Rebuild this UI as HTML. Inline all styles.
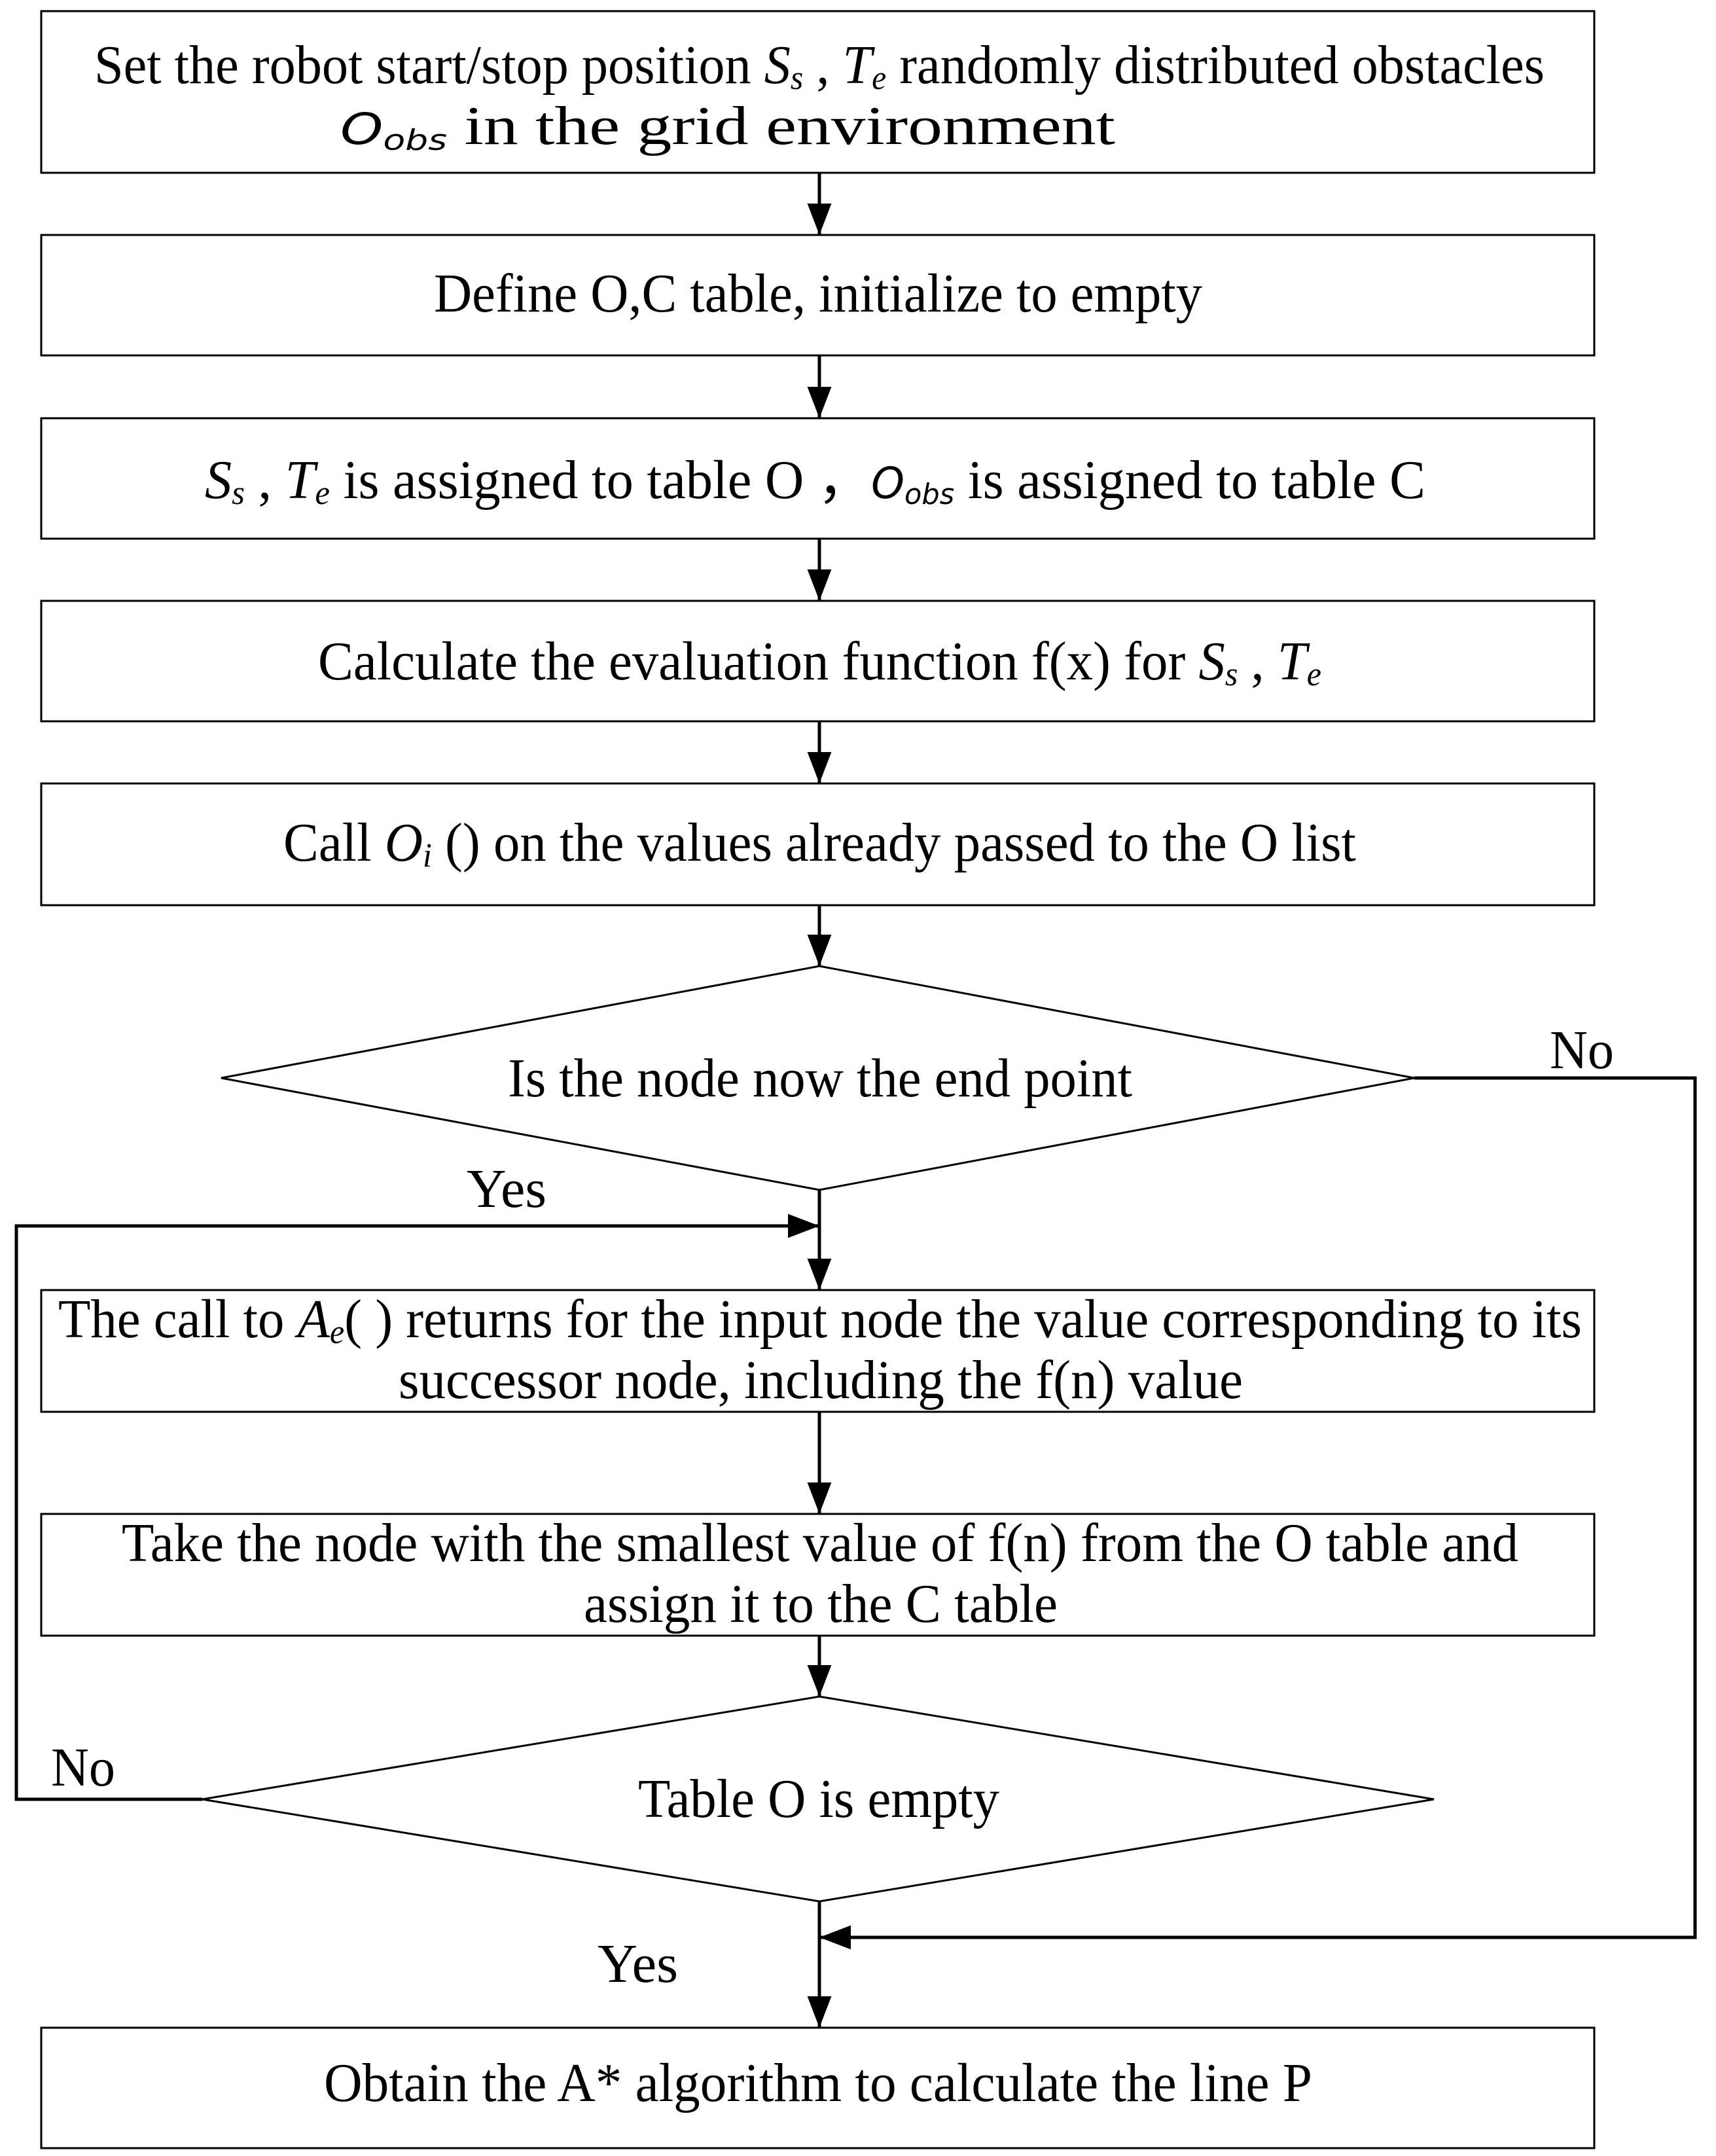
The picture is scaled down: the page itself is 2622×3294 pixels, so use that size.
<!DOCTYPE html>
<html><head><meta charset="utf-8"><style>html,body{margin:0;padding:0;background:#fff}svg{display:block}</style></head>
<body>
<svg width="2622" height="3294" viewBox="0 0 2622 3294" xmlns="http://www.w3.org/2000/svg">
<defs>
<marker id="a" markerUnits="userSpaceOnUse" markerWidth="48" markerHeight="62" refX="60" refY="23" orient="auto" viewBox="0 0 60 46"><path d="M0,0 L60,23 L0,46 Z" fill="#000"/></marker>
</defs>
<g fill="#fff" stroke="#000" stroke-width="3">
<rect x="63" y="17" width="2373" height="247"/>
<rect x="63" y="359" width="2373" height="184"/>
<rect x="63" y="639" width="2373" height="184"/>
<rect x="63" y="918" width="2373" height="184"/>
<rect x="63" y="1197" width="2373" height="186"/>
<polygon points="338,1647 1252,1476 2161,1647 1252,1818"/>
<rect x="63" y="1971" width="2373" height="186"/>
<rect x="63" y="2313" width="2373" height="186"/>
<polygon points="309,2749 1252,2592 2191,2749 1252,2905"/>
<rect x="63" y="3098" width="2373" height="184"/>
</g>
<g stroke="#000" stroke-width="5" fill="none">
<line x1="1252" y1="264" x2="1252" y2="359" marker-end="url(#a)"/>
<line x1="1252" y1="543" x2="1252" y2="639" marker-end="url(#a)"/>
<line x1="1252" y1="823" x2="1252" y2="918" marker-end="url(#a)"/>
<line x1="1252" y1="1102" x2="1252" y2="1197" marker-end="url(#a)"/>
<line x1="1252" y1="1383" x2="1252" y2="1476" marker-end="url(#a)"/>
<line x1="1252" y1="1818" x2="1252" y2="1971" marker-end="url(#a)"/>
<line x1="1252" y1="2157" x2="1252" y2="2313" marker-end="url(#a)"/>
<line x1="1252" y1="2499" x2="1252" y2="2592" marker-end="url(#a)"/>
<line x1="1252" y1="2905" x2="1252" y2="3098" marker-end="url(#a)"/>
<polyline points="309,2749 25,2749 25,1873 1252,1873" marker-end="url(#a)"/>
<polyline points="2161,1647 2590,1647 2590,2960 1252,2960" marker-end="url(#a)"/>
</g>
<g font-family="Liberation Serif, serif" font-size="84" fill="#000" text-anchor="start">
<text x="144" y="127" textLength="2216" lengthAdjust="spacingAndGlyphs">Set the robot start/stop position <tspan font-style="italic">S</tspan><tspan font-style="italic" font-size="52" dy="9">s</tspan><tspan dy="-9"> , </tspan><tspan font-style="italic">T</tspan><tspan font-style="italic" font-size="52" dy="9">e</tspan><tspan dy="-9"> randomly distributed obstacles</tspan></text>
<text x="520" y="220" textLength="1184" lengthAdjust="spacingAndGlyphs"><tspan font-family="DejaVu Sans, sans-serif" font-style="italic" font-size="66">O</tspan><tspan font-family="DejaVu Sans, sans-serif" font-style="italic" font-size="44" dy="9">obs</tspan><tspan dy="-9"> in the grid environment</tspan></text>
<text x="663" y="476" textLength="1174" lengthAdjust="spacingAndGlyphs">Define O,C table, initialize to empty</text>
<text x="313" y="761" textLength="1865" lengthAdjust="spacingAndGlyphs"><tspan font-style="italic">S</tspan><tspan font-style="italic" font-size="52" dy="9">s</tspan><tspan dy="-9"> , </tspan><tspan font-style="italic">T</tspan><tspan font-style="italic" font-size="52" dy="9">e</tspan><tspan dy="-9"> is assigned to table O ，</tspan><tspan font-family="DejaVu Sans, sans-serif" font-style="italic" font-size="66">O</tspan><tspan font-family="DejaVu Sans, sans-serif" font-style="italic" font-size="44" dy="9">obs</tspan><tspan dy="-9">  is assigned to table C</tspan></text>
<text x="486" y="1038" textLength="1533" lengthAdjust="spacingAndGlyphs">Calculate the evaluation function f(x) for <tspan font-style="italic">S</tspan><tspan font-style="italic" font-size="52" dy="9">s</tspan><tspan dy="-9"> , </tspan><tspan font-style="italic">T</tspan><tspan font-style="italic" font-size="52" dy="9">e</tspan></text>
<text x="433" y="1315" textLength="1639" lengthAdjust="spacingAndGlyphs">Call <tspan font-style="italic">O</tspan><tspan font-style="italic" font-size="52" dy="9">i</tspan><tspan dy="-9"> () on the values already passed to the O list</tspan></text>
<text x="776" y="1675" textLength="954" lengthAdjust="spacingAndGlyphs">Is the node now the end point</text>
<text x="89" y="2043" textLength="2328" lengthAdjust="spacingAndGlyphs">The call to <tspan font-style="italic">A</tspan><tspan font-style="italic" font-size="52" dy="9">e</tspan><tspan dy="-9">( ) returns for the input node the value corresponding to its</tspan></text>
<text x="609" y="2136" textLength="1290" lengthAdjust="spacingAndGlyphs">successor node, including the f(n) value</text>
<text x="186" y="2385" textLength="2134" lengthAdjust="spacingAndGlyphs">Take the node with the smallest value of f(n) from the O table and</text>
<text x="892" y="2478" textLength="724" lengthAdjust="spacingAndGlyphs">assign it to the C table</text>
<text x="975" y="2776" textLength="552" lengthAdjust="spacingAndGlyphs">Table O is empty</text>
<text x="495" y="3210" textLength="1510" lengthAdjust="spacingAndGlyphs">Obtain the A* algorithm to calculate the line P</text>
<text x="2368" y="1632" textLength="98" lengthAdjust="spacingAndGlyphs">No</text>
<text x="713" y="1844" textLength="122" lengthAdjust="spacingAndGlyphs">Yes</text>
<text x="78" y="2728" textLength="98" lengthAdjust="spacingAndGlyphs">No</text>
<text x="913" y="3028" textLength="123" lengthAdjust="spacingAndGlyphs">Yes</text>
</g>
</svg>
</body></html>
